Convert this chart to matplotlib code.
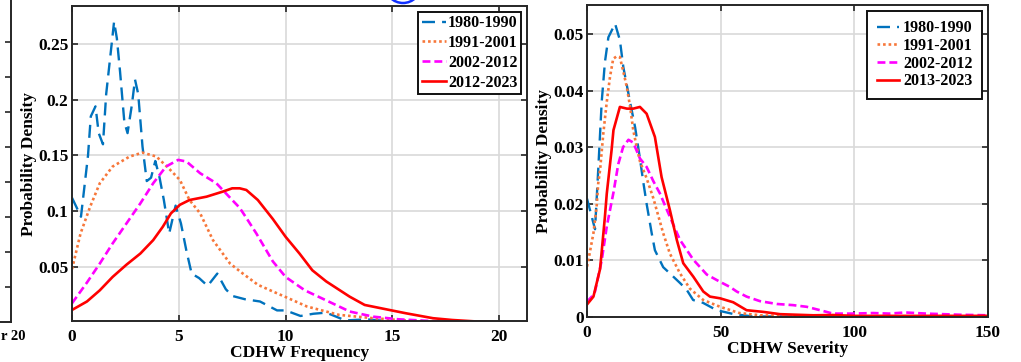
import matplotlib
matplotlib.use("Agg")
import matplotlib.pyplot as plt
from matplotlib.patches import Ellipse

plt.rcParams['font.family'] = ['Liberation Serif', 'DejaVu Serif']
plt.rcParams['font.weight'] = 'bold'

# ---------------- data: left panel (CDHW Frequency) ----------------
freq_labels = ["1980-1990", "1991-2001", "2002-2012", "2012-2023"]

f_blue_x = [0, 0.2, 0.42, 0.6, 0.75, 0.88, 1.1, 1.25, 1.45, 1.6, 1.8, 1.97, 2.1, 2.25, 2.45,
            2.6, 2.8, 2.95, 3.1, 3.3, 3.5, 3.7, 3.9, 4.1, 4.3, 4.55, 4.85, 5.1, 5.35, 5.6,
            5.95, 6.35, 6.8, 7.2, 7.5, 8.1, 8.8, 9.6, 10.0, 10.7, 11.3, 11.9, 12.8, 13.8,
            15.0, 16.5, 21.3]
f_blue_y = [0.112, 0.104, 0.095, 0.125, 0.150, 0.185, 0.194, 0.170, 0.160, 0.205, 0.240,
            0.270, 0.255, 0.225, 0.180, 0.170, 0.195, 0.218, 0.205, 0.158, 0.127, 0.130,
            0.145, 0.130, 0.110, 0.080, 0.105, 0.089, 0.065, 0.044, 0.040, 0.033, 0.044,
            0.030, 0.024, 0.021, 0.019, 0.011, 0.011, 0.006, 0.008, 0.009, 0.002, 0.003,
            0.001, 0.0, 0.0]

f_orange_x = [0, 0.4, 0.85, 1.3, 1.9, 2.7, 3.3, 3.95, 4.6, 5.05, 5.5, 6.0, 6.6, 7.4, 8.0,
              8.7, 9.4, 10.0, 11.0, 12.5, 14.1, 15.6, 17.0, 19.0, 21.3]
f_orange_y = [0.048, 0.080, 0.104, 0.125, 0.140, 0.149, 0.1525, 0.149, 0.137, 0.128, 0.110,
              0.098, 0.074, 0.053, 0.044, 0.034, 0.028, 0.023, 0.0145, 0.007, 0.004, 0.002,
              0.0008, 0.0002, 0.0]

f_mag_x = [0, 0.7, 1.3, 1.9, 2.55, 3.2, 3.8, 4.4, 4.97, 5.36, 6.0, 6.76, 7.5, 7.85, 8.16,
           8.63, 9.4, 10.0, 10.9, 11.9, 13.0, 14.1, 15.3, 16.8, 18.5, 21.3]
f_mag_y = [0.0174, 0.036, 0.053, 0.071, 0.089, 0.107, 0.125, 0.140, 0.146, 0.1445, 0.134,
           0.125, 0.110, 0.103, 0.094, 0.080, 0.055, 0.041, 0.029, 0.020, 0.010, 0.0054,
           0.003, 0.0015, 0.0005, 0.0]

f_red_x = [0, 0.7, 1.3, 1.9, 2.55, 3.2, 3.8, 4.25, 4.63, 5.05, 5.5, 6.3, 7.07, 7.5, 7.85,
           8.16, 8.7, 9.4, 10.0, 10.65, 11.25, 11.9, 13.0, 13.7, 14.86, 15.64, 16.9, 17.8,
           19.0, 21.3]
f_red_y = [0.0114, 0.019, 0.029, 0.041, 0.052, 0.062, 0.074, 0.086, 0.098, 0.1057, 0.110,
           0.113, 0.1176, 0.1205, 0.1205, 0.119, 0.110, 0.093, 0.077, 0.062, 0.047, 0.037,
           0.0233, 0.0159, 0.0114, 0.0084, 0.004, 0.0024, 0.001, 0.0]

# ---------------- data: right panel (CDHW Severity) ----------------
sev_labels = ["1980-1990", "1991-2001", "2002-2012", "2013-2023"]

s_blue_x = [0, 3.0, 4.2, 5.5, 6.7, 8.0, 10.5, 12.3, 13.6, 16.1, 18.0, 19.8, 21.0, 22.3, 24.2,
            25.4, 28.5, 31.0, 34.8, 37.3, 39.7, 43.4, 48.5, 55, 62, 150]
s_blue_y = [0.0209, 0.0155, 0.026, 0.038, 0.045, 0.0494, 0.0518, 0.0489, 0.0441, 0.038,
            0.0335, 0.028, 0.024, 0.020, 0.0148, 0.0118, 0.0088, 0.0077, 0.006, 0.0048,
            0.003, 0.0025, 0.0012, 0.0005, 0.0001, 0.0]

s_orange_x = [0, 0.5, 2.4, 3.6, 4.2, 4.9, 6.1, 7.4, 8.6, 9.8, 11.0, 12.3, 13.6, 14.9, 16.1,
              17.3, 18.6, 19.8, 22.3, 24.8, 28.5, 31.0, 34.8, 38.5, 43.5, 49.8, 57, 65, 80, 150]
s_orange_y = [0.0089, 0.010, 0.0148, 0.0195, 0.0236, 0.0260, 0.0324, 0.038, 0.0424, 0.0456,
              0.0460, 0.0459, 0.0433, 0.0406, 0.0372, 0.033, 0.030, 0.0275, 0.0245, 0.021,
              0.0148, 0.0112, 0.0077, 0.005, 0.003, 0.0018, 0.0007, 0.0003, 0.0001, 0.0]

s_mag_x = [0, 1.8, 3.0, 5.5, 7.4, 9.9, 11.7, 13.5, 15.5, 17.3, 19.8, 22.3, 24.8, 27.3, 29.8,
           34.8, 39.8, 44.8, 49.8, 53.5, 56, 59.7, 64.7, 71, 77, 82.2, 87.2, 92, 99.6, 107,
           113, 119, 127, 139.5, 150]
s_mag_y = [0.0027, 0.0036, 0.0045, 0.010, 0.016, 0.022, 0.027, 0.030, 0.0313, 0.0308, 0.028,
           0.0265, 0.024, 0.0218, 0.019, 0.0136, 0.0101, 0.0075, 0.0062, 0.0053, 0.0045,
           0.0036, 0.0028, 0.0023, 0.0021, 0.0018, 0.0012, 0.0006, 0.0006, 0.0007, 0.0006,
           0.0008, 0.0006, 0.0004, 0.0003]

s_red_x = [0, 2.4, 4.9, 6.7, 7.4, 9.2, 9.9, 12.3, 14.9, 17.3, 19.8, 22.3, 25.4, 27.9, 31.0,
           33.6, 36.0, 39.8, 43.5, 46.0, 49.8, 54.7, 59.7, 66, 72.2, 84.7, 92, 100, 150]
s_red_y = [0.0022, 0.0036, 0.0085, 0.0177, 0.0218, 0.0295, 0.033, 0.0371, 0.0368, 0.0368,
           0.0371, 0.0359, 0.0318, 0.0247, 0.0189, 0.0136, 0.0095, 0.0071, 0.0045, 0.0036,
           0.0033, 0.0026, 0.0012, 0.0009, 0.0005, 0.0003, 0.00035, 0.0002, 0.0002]

freq_xticks = [0, 5, 10, 15, 20]
freq_yticks = [0.05, 0.1, 0.15, 0.2, 0.25]
freq_yticklabels = ["0.05", "0.1", "0.15", "0.2", "0.25"]
sev_xticks = [0, 50, 100, 150]
sev_yticks = [0, 0.01, 0.02, 0.03, 0.04, 0.05]
sev_yticklabels = ["0", "0.01", "0.02", "0.03", "0.04", "0.05"]

# ---------------- styles ----------------
C_BLUE = '#0072BD'
C_ORANGE = '#F7773A'
C_MAG = '#FF00FF'
C_RED = '#FF0000'
SPINE = '#262626'
GRID = '#d9d9d9'
TICK_FS = 12.5
LEG_FS = 11.5
LAB_FS = 12.5

W, H = 1021, 362
fig = plt.figure(figsize=(W / 100, H / 100), dpi=100)


def px_rect(x0, y0, x1, y1):
    return [x0 / W, 1 - y1 / H, (x1 - x0) / W, (y1 - y0) / H]


def style_axes(ax):
    for s in ax.spines.values():
        s.set_color(SPINE)
        s.set_linewidth(1.4)
    ax.tick_params(direction='in', length=4, width=1.2, color=SPINE,
                   top=True, right=True, labelsize=TICK_FS)
    ax.tick_params(axis='x', pad=5.5)
    ax.tick_params(axis='y', pad=2.5)
    ax.grid(True, color=GRID, linewidth=1.2)
    ax.set_axisbelow(True)
    for lab in ax.get_xticklabels() + ax.get_yticklabels():
        lab.set_fontweight('bold')


def draw(ax, series, labels, legend_kw):
    styles = [
        dict(color=C_BLUE, lw=1.7, dashes=(5.5, 3.0)),
        dict(color=C_ORANGE, lw=1.9, dashes=(1.0, 1.1)),
        dict(color=C_MAG, lw=1.9, dashes=(3.0, 1.5)),
        dict(color=C_RED, lw=1.9, linestyle='-'),
    ]
    for (x, y), lab, st in zip(series, labels, styles):
        ax.plot(x, y, label=lab, **st)
    leg = ax.legend(loc='upper right', fancybox=False, framealpha=1,
                    edgecolor='#111111',
                    prop=dict(family='Liberation Serif', weight='bold', size=LEG_FS),
                    **legend_kw)
    leg.get_frame().set_linewidth(1.4)


# partial panel at far left (cut off)
axp = fig.add_axes(px_rect(-111, -4, 11, 322))
axp.set_xlim(0, 1)
axp.set_ylim(0, 9.31)
axp.set_yticks([1, 2, 3, 4, 5, 6, 7, 8])
axp.set_xticks([])
axp.yaxis.tick_right()
axp.tick_params(axis='y', direction='in', length=4, width=1.2, color=SPINE, labelright=False)
for side in ['top', 'left']:
    axp.spines[side].set_visible(False)
for side in ['right', 'bottom']:
    axp.spines[side].set_color(SPINE)
    axp.spines[side].set_linewidth(1.4)
fig.text(1 / W, 1 - 337 / H, "r 20", ha='left', va='center', fontsize=10.5, fontweight='bold')

# left main panel
ax1 = fig.add_axes(px_rect(72, 6, 527, 321))
draw(ax1, [(f_blue_x, f_blue_y), (f_orange_x, f_orange_y), (f_mag_x, f_mag_y), (f_red_x, f_red_y)],
     freq_labels, dict(borderpad=0.22, labelspacing=0.24, handlelength=1.5, handletextpad=0.15,
                       borderaxespad=0.35))
ax1.set_xlim(0, 21.3)
ax1.set_ylim(0.0015, 0.284)
ax1.set_xticks(freq_xticks)
ax1.set_yticks(freq_yticks)
ax1.set_yticklabels(freq_yticklabels)
ax1.set_xlabel("CDHW Frequency", fontsize=LAB_FS, fontweight='bold', labelpad=0)
ax1.set_ylabel("Probability Density", fontsize=LAB_FS, fontweight='bold', labelpad=0.5)
style_axes(ax1)

# right panel
ax2 = fig.add_axes(px_rect(587, 5, 988, 317))
draw(ax2, [(s_blue_x, s_blue_y), (s_orange_x, s_orange_y), (s_mag_x, s_mag_y), (s_red_x, s_red_y)],
     sev_labels, dict(borderpad=0.6, labelspacing=0.11, handlelength=1.4, handletextpad=0.25,
                      borderaxespad=0.35))
ax2.set_xlim(0, 150)
ax2.set_ylim(0, 0.0551)
ax2.set_xticks(sev_xticks)
ax2.set_yticks(sev_yticks)
ax2.set_yticklabels(sev_yticklabels)
ax2.set_xlabel("CDHW Severity", fontsize=LAB_FS, fontweight='bold', labelpad=0)
ax2.set_ylabel("Probability Density", fontsize=LAB_FS, fontweight='bold', labelpad=0.5)
style_axes(ax2)

# blue circled marker cut off at the top
fig.add_artist(Ellipse((403 / W, 1 + 15 / H), 36 / W, 36 / H, transform=fig.transFigure,
                       fill=False, edgecolor='#1030ff', linewidth=1.8))

fig.savefig("out.png", dpi=100)
